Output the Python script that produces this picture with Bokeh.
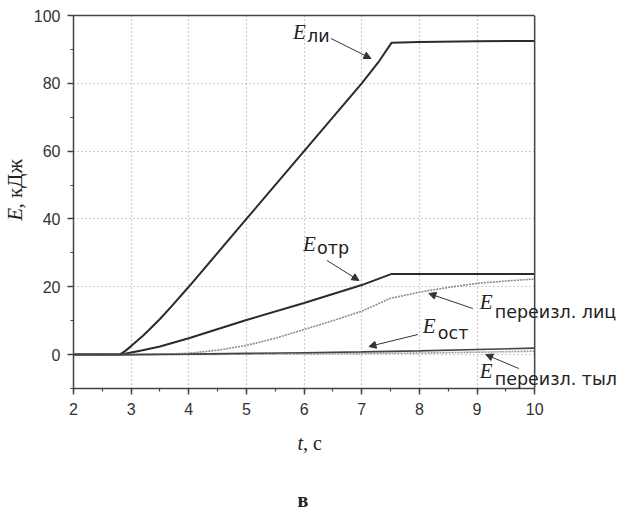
import math
from bokeh.plotting import figure
from bokeh.layouts import row, column
from bokeh.models import (Label, Arrow, NormalHead, SingleIntervalTicker, FixedTicker,
                          Range1d, LinearAxis, Span)
from bokeh.embed import file_html
from bokeh.resources import INLINE

# ---- data ----
t_li = [2.0, 2.8, 2.9, 3.0, 3.1, 3.2, 3.3, 3.4, 3.5, 3.7, 4.0, 5.0, 6.0, 7.0, 7.3, 7.52, 8.0, 9.0, 10.0]
E_li = [0.0, 0.0, 1.1, 2.5, 4.0, 5.5, 7.1, 8.8, 10.5, 14.2, 20.0, 40.0, 60.0, 80.0, 86.5, 92.0, 92.2, 92.4, 92.5]

t_otr = [2.0, 2.83, 3.0, 3.2, 3.5, 4.0, 5.0, 6.0, 7.0, 7.52, 8.0, 9.0, 10.0]
E_otr = [0.0, 0.0, 0.6, 1.3, 2.4, 4.8, 10.2, 15.2, 20.5, 23.8, 23.8, 23.8, 23.8]

t_lic = [2.0, 3.0, 3.5, 4.0, 4.5, 5.0, 5.5, 6.0, 6.5, 7.0, 7.5, 8.0, 8.5, 9.0, 9.5, 10.0]
E_lic = [0.0, 0.0, 0.1, 0.4, 1.3, 2.7, 4.8, 7.4, 10.0, 12.8, 16.6, 18.4, 19.8, 21.0, 21.7, 22.3]

t_ost = [2.0, 3.0, 4.0, 5.0, 6.0, 7.0, 8.0, 9.0, 10.0]
E_ost = [0.0, 0.0, 0.15, 0.35, 0.55, 0.8, 1.1, 1.5, 1.9]

t_tyl = [2.0, 3.0, 4.0, 5.0, 6.0, 7.0, 8.0, 9.0, 10.0]
E_tyl = [0.0, 0.0, 0.05, 0.1, 0.2, 0.3, 0.45, 0.7, 1.0]

x_min, x_max = 2, 10
y_min, y_max = -10, 100
x_ticks_interval = 1
y_ticks_interval = 20

DARK = "#2b2b2b"
AXC = "#444444"
TXT = "#222222"
SERIF = "Liberation Serif"
SANS = "DejaVu Sans"
BASE_SHIFT = 0.31   # observed label baseline shift, in em

# ---- layout geometry (px) ----
W, H = 621, 512
YLAB_W = 30            # strip holding the y-axis title
MAIN_H = 425           # height of the main plot strip
FL, FR, FT, FB = 72, 534, 15, 388   # data-area edges on the page

main_w = W - YLAB_W
px_per_x = (FR - FL) / (x_max - x_min)
x_end = x_max + (W - FR) / px_per_x      # frame continues to the page edge for the labels

p = figure(width=main_w, height=MAIN_H, x_range=Range1d(x_min, x_end),
           y_range=Range1d(y_min, y_max), output_backend="svg", toolbar_location=None,
           min_border_left=FL - YLAB_W, min_border_right=0, min_border_top=FT,
           min_border_bottom=MAIN_H - FB,
           background_fill_color="white", border_fill_color="white")
p.outline_line_color = None

p.xaxis.ticker = SingleIntervalTicker(interval=x_ticks_interval, num_minor_ticks=2)
p.yaxis.ticker = SingleIntervalTicker(interval=y_ticks_interval, num_minor_ticks=2)
p.xaxis.bounds = (x_min, x_max)

for ax in (p.xaxis[0], p.yaxis[0]):
    ax.axis_line_color = AXC
    ax.axis_line_width = 1.5
    ax.major_tick_line_color = AXC
    ax.major_tick_line_width = 1.5
    ax.minor_tick_line_color = AXC
    ax.minor_tick_line_width = 1.2
    ax.major_tick_out = 6
    ax.major_tick_in = 0
    ax.minor_tick_out = 3
    ax.minor_tick_in = 0
    ax.major_label_text_font = "Liberation Sans"
    ax.major_label_text_font_size = "16px"
    ax.major_label_text_color = "#333333"
p.xaxis.major_label_standoff = 8
p.yaxis.major_label_standoff = 7

# top border of the data area
top = LinearAxis(ticker=FixedTicker(ticks=[]), bounds=(x_min, x_max),
                 axis_line_color=AXC, axis_line_width=1.5,
                 major_tick_out=0, major_tick_in=0, minor_tick_out=0, minor_tick_in=0,
                 major_label_text_font_size="0px", major_label_standoff=0)
p.add_layout(top, "above")
# right border of the data area
p.add_layout(Span(location=x_max, dimension="height", line_color=AXC, line_width=1.5))

xg, yg = p.xgrid[0], p.ygrid[0]
for g in (xg, yg):
    g.grid_line_color = "#9a9a9a"
    g.grid_line_dash = "1 3"
    g.grid_line_width = 1.2
xg.bounds = (x_min, x_max)
yg.bounds = (y_min, y_max)
try:
    xg.cross_bounds = (y_min, y_max)
    yg.cross_bounds = (x_min, x_max)
except AttributeError:
    pass

# curves
p.line(t_li, E_li, line_color=DARK, line_width=2)
p.line(t_otr, E_otr, line_color=DARK, line_width=2)
p.line(t_lic, E_lic, line_color="#8c8c8c", line_width=1.6, line_dash="2 1")
p.line(t_tyl, E_tyl, line_color="#9a9a9a", line_width=1.6, line_dash="2 1")
p.line(t_ost, E_ost, line_color=AXC, line_width=1.6)

px_per_y = (FB - FT) / (y_max - y_min)


def dx(px):
    return x_min + (px - FL) / px_per_x


def dy(py):
    return y_max - (py - FT) / px_per_y


def lab(px, py, text, font, size, style="normal"):
    py = py - BASE_SHIFT * size
    p.add_layout(Label(x=dx(px), y=dy(py), text=text, text_font=font,
                       text_font_size=f"{size}px", text_font_style=style,
                       text_color=TXT, text_baseline="alphabetic"))


def ename(ex, ey, sx, sy, sub):
    lab(ex, ey, "E", SERIF, 21, "italic")
    lab(sx, sy, sub, SANS, 17.5)


def arrow(x0, y0, x1, y1):
    p.add_layout(Arrow(end=NormalHead(size=7, fill_color="#333333", line_color="#333333"),
                       x_start=dx(x0), y_start=dy(y0), x_end=dx(x1), y_end=dy(y1),
                       line_color="#333333", line_width=1))


ename(292, 38, 306, 41, "ли")
arrow(330, 38, 370, 58)

ename(302, 250, 316, 253, "отр")
arrow(326, 260, 358, 280)

ename(479, 308, 494, 317, "переизл. лиц")
arrow(472, 308, 428, 293)

ename(422, 332, 437, 338, "ост")
arrow(417, 334, 368, 346)

ename(479, 377, 494, 384, "переизл. тыл")
arrow(518, 368, 485, 354)


def strip(w, h):
    f = figure(width=w, height=h, x_range=Range1d(0, w), y_range=Range1d(0, h),
               output_backend="svg", toolbar_location=None,
               x_axis_location=None, y_axis_location=None,
               min_border=0, background_fill_color="white", border_fill_color="white")
    f.outline_line_color = None
    f.grid.visible = False
    return f


# y-axis title strip (rotated text: baseline shift acts along x)
yl = strip(YLAB_W, MAIN_H)
ysz = 21
yx = 21 - BASE_SHIFT * ysz
yl.add_layout(Label(x=yx, y=MAIN_H - 234, text="E", angle=math.pi / 2, text_font=SERIF,
                    text_font_style="italic", text_font_size=f"{ysz}px", text_color=TXT,
                    text_baseline="alphabetic"))
yl.add_layout(Label(x=yx, y=MAIN_H - 220, text=", кДж", angle=math.pi / 2, text_font=SERIF,
                    text_font_size=f"{ysz}px", text_color=TXT, text_baseline="alphabetic"))

# x-axis title and caption strip
BOT_H = H - MAIN_H


def blab(f, px, py, text, size, style="normal"):
    f.add_layout(Label(x=px, y=H - (py - BASE_SHIFT * size), text=text, text_font=SERIF,
                       text_font_style=style, text_font_size=f"{size}px", text_color=TXT,
                       text_baseline="alphabetic"))


bl = strip(W, BOT_H)
blab(bl, 297, 449, "t", 20, "italic")
blab(bl, 302.6, 449, ", с", 20)
blab(bl, 297, 506, "в", 20, "bold")

layout = column(row(yl, p), bl)
open("out.html", "w").write(file_html(layout, INLINE))
